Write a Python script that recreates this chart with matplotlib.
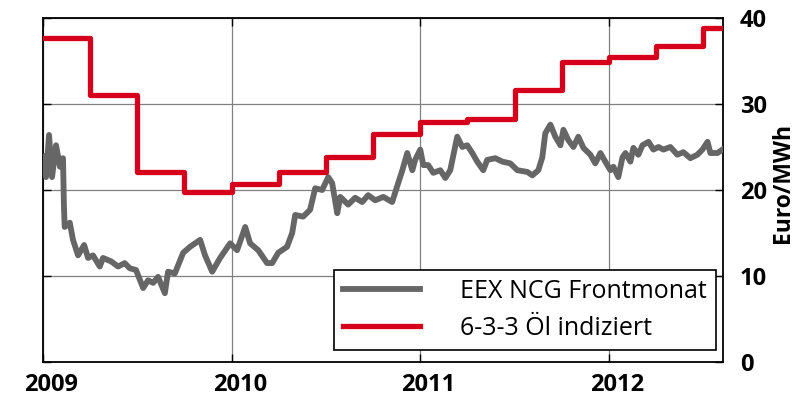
import numpy as np
import matplotlib
matplotlib.use('Agg')
import matplotlib.pyplot as plt
import matplotlib.transforms as mtransforms

# ============================================================
# DATA
# ============================================================

# gas price, EEX NCG front month (decimal year, Euro/MWh)
GAS_T = [2009.000, 2009.016, 2009.032, 2009.048, 2009.069, 2009.090, 2009.106,
         2009.111, 2009.115, 2009.142, 2009.159, 2009.186, 2009.218, 2009.239,
         2009.265, 2009.301, 2009.318, 2009.361, 2009.398, 2009.433, 2009.460,
         2009.493, 2009.531, 2009.557, 2009.584, 2009.610, 2009.646, 2009.663,
         2009.699, 2009.743, 2009.780, 2009.833, 2009.859, 2009.897, 2009.939,
         2009.992, 2010.029, 2010.072, 2010.098, 2010.141, 2010.188, 2010.215,
         2010.247, 2010.294, 2010.321, 2010.337, 2010.379, 2010.416, 2010.443,
         2010.480, 2010.512, 2010.533, 2010.560, 2010.576, 2010.618, 2010.655,
         2010.692, 2010.724, 2010.761, 2010.804, 2010.851, 2010.883, 2010.905,
         2010.931, 2010.958, 2010.973, 2011.000, 2011.016, 2011.042, 2011.069,
         2011.106, 2011.133, 2011.159, 2011.196, 2011.223, 2011.249, 2011.276,
         2011.302, 2011.334, 2011.355, 2011.398, 2011.435, 2011.477, 2011.515,
         2011.568, 2011.594, 2011.626, 2011.647, 2011.663, 2011.690, 2011.716,
         2011.743, 2011.759, 2011.785, 2011.812, 2011.838, 2011.865, 2011.902,
         2011.928, 2011.955, 2011.981, 2012.008, 2012.024, 2012.050, 2012.072,
         2012.088, 2012.114, 2012.130, 2012.156, 2012.178, 2012.210, 2012.236,
         2012.263, 2012.289, 2012.326, 2012.363, 2012.395, 2012.432, 2012.469,
         2012.496, 2012.523, 2012.538, 2012.576, 2012.602]
GAS_V = [23.9, 21.5, 26.4, 21.5, 25.2, 22.7, 23.7,
         18.1, 15.7, 16.2, 14.2, 12.4, 13.6, 12.1,
         12.4, 11.1, 12.1, 11.7, 11.1, 11.5, 10.9,
         10.7, 8.6, 9.5, 9.2, 9.9, 8.0, 10.5,
         10.3, 12.7, 13.4, 14.2, 12.4, 10.5, 12.1,
         13.8, 13.0, 15.7, 13.8, 13.0, 11.5, 11.5,
         12.7, 13.4, 15.0, 17.1, 16.9, 17.7, 20.2,
         20.0, 21.5, 20.8, 17.3, 19.2, 18.3, 19.1,
         18.6, 19.4, 18.8, 19.2, 18.6, 20.8, 22.3,
         24.3, 22.3, 23.5, 24.7, 22.9, 22.9, 22.0,
         22.3, 21.4, 22.3, 26.2, 25.0, 25.2, 24.3,
         23.3, 22.3, 23.5, 23.7, 23.3, 23.1, 22.3,
         22.1, 21.7, 22.3, 23.8, 26.6, 27.6, 26.2,
         25.2, 27.0, 25.8, 25.0, 26.2, 24.9, 24.1,
         23.1, 24.3, 23.3, 22.3, 22.7, 21.5, 23.8,
         24.3, 23.3, 24.9, 24.1, 25.2, 25.6, 24.7,
         25.0, 24.7, 25.0, 24.1, 24.4, 23.7, 24.1,
         24.7, 25.6, 24.3, 24.3, 24.7]

# oil indexed price 6-3-3, quarterly steps (quarter start, Euro/MWh)
OIL_T = [2009.00, 2009.25, 2009.50, 2009.75, 2010.00, 2010.25, 2010.50, 2010.75,
         2011.00, 2011.25, 2011.50, 2011.75, 2012.00, 2012.25, 2012.50]
OIL_V = [37.7, 31.0, 22.1, 19.8, 20.7, 22.1, 23.8, 26.5,
         27.9, 28.2, 31.6, 34.9, 35.5, 36.7, 38.8]
OIL_END = 2012.59

YEARS   = [2009, 2010, 2011, 2012]
Y_TICKS = [0, 10, 20, 30, 40]

LABEL_GAS = 'EEX NCG Frontmonat'
LABEL_OIL = '6-3-3 Öl indiziert'
Y_LABEL   = 'Euro/MWh'

# ============================================================
# STYLE
# ============================================================

GRAY = '#666666'
RED  = '#d6001c'

plt.rcParams['font.family'] = ['Open Sans', 'DejaVu Sans']

# ============================================================
# PLOT
# ============================================================

fig = plt.figure(figsize=(8.05, 4.01), dpi=100)
ax = fig.add_axes([43 / 805, 39 / 401, 680 / 805, 344 / 401])

ax.plot(GAS_T, GAS_V, color=GRAY, lw=4.2, solid_joinstyle='round',
        label=LABEL_GAS, zorder=3)
ax.step(OIL_T + [OIL_END], OIL_V + [OIL_V[-1]], where='post', color=RED,
        lw=3.8, label=LABEL_OIL, zorder=4)

ax.set_xlim(2009, 2012.605)
ax.set_ylim(0, 40)
ax.set_xticks(YEARS)
ax.set_xticklabels([str(y) for y in YEARS], fontsize=17, fontweight='bold')
ax.set_yticks(Y_TICKS)

ax.yaxis.tick_right()
ax.set_yticklabels([str(v) for v in Y_TICKS], fontsize=17, fontweight='bold')
ax.yaxis.set_label_position('right')
ax.set_ylabel(Y_LABEL, fontsize=16.5, fontweight='bold')
ax.yaxis.set_label_coords(1.071, 0.52)

ax.tick_params(axis='both', direction='in', length=6, width=1,
               top=True, bottom=True, left=True, right=True, colors='black')
ax.tick_params(axis='y', pad=12)
ax.tick_params(axis='x', pad=8)

# shift year labels a bit to the right like in the original
offset = mtransforms.ScaledTranslation(8 / 100, 0, fig.dpi_scale_trans)
for lbl in ax.get_xticklabels():
    lbl.set_transform(lbl.get_transform() + offset)

ax.grid(True, color='#808080', lw=0.9)
ax.set_axisbelow(True)
for sp in ax.spines.values():
    sp.set_linewidth(1.3)
    sp.set_color('black')

leg = ax.legend(loc='lower right', bbox_to_anchor=(0.989, 0.035),
                fontsize=18, frameon=True, fancybox=False, handlelength=3.1,
                handletextpad=1.6, borderpad=0.35, labelspacing=0.5,
                borderaxespad=0)
leg.get_frame().set_edgecolor('black')
leg.get_frame().set_linewidth(1.2)
leg.get_frame().set_alpha(1)

fig.savefig('out.png', dpi=100)
